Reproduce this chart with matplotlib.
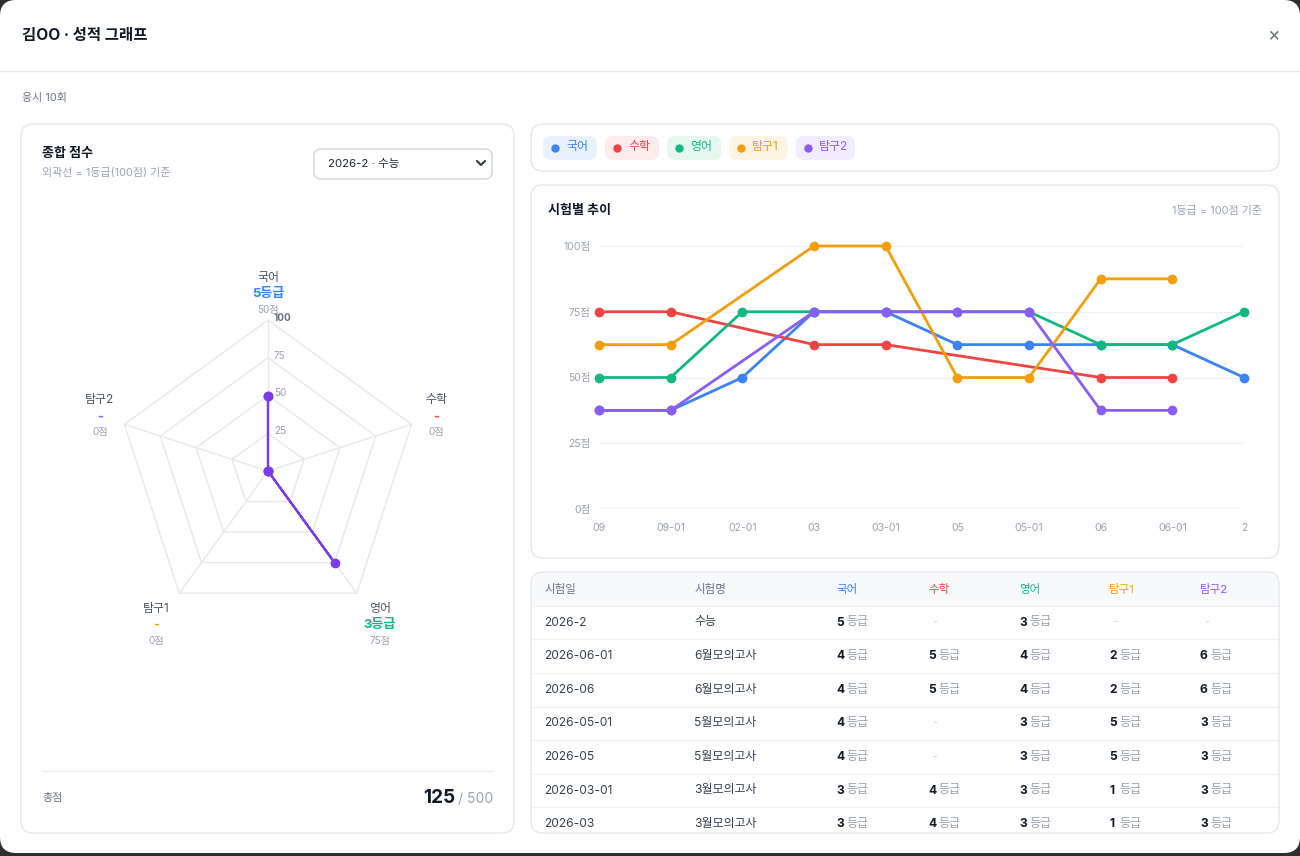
import matplotlib.pyplot as plt
import numpy as np
import pandas as pd
from matplotlib.patches import FancyBboxPatch, Rectangle

plt.rcParams['font.family'] = ['Inter', 'Noto Sans CJK KR', 'DejaVu Sans']

SUBJECTS = ['국어', '수학', '영어', '탐구1', '탐구2']
COLORS = ['#3b82f6', '#ef4444', '#10b981', '#f59e0b', '#8b5cf6']
CHIP_BG = ['#eaf1fe', '#fdecec', '#e6f7f0', '#fef4e4', '#f2edfe']

# exams in chronological order (x axis of the trend chart)
exam_labels = ['09', '09-01', '02-01', '03', '03-01', '05', '05-01', '06', '06-01', '2']
kor_grades = [6, 6, 5, 3, 3, 4, 4, 4, 4, 5]
math_grades = [3, 3, None, 4, 4, None, None, 5, 5, None]
eng_grades = [5, 5, 3, 3, 3, 3, 3, 4, 4, 3]
inq1_grades = [4, 4, None, 1, 1, 5, 5, 2, 2, None]
inq2_grades = [6, 6, None, 3, 3, 3, 3, 6, 6, None]

# table rows, latest first (only the visible part of the list)
table_dates = ['2026-2', '2026-06-01', '2026-06', '2026-05-01', '2026-05', '2026-03-01', '2026-03']
table_names = ['수능', '6월모의고사', '6월모의고사', '5월모의고사', '5월모의고사', '3월모의고사', '3월모의고사']

grades = pd.DataFrame({
    '국어': kor_grades,
    '수학': math_grades,
    '영어': eng_grades,
    '탐구1': inq1_grades,
    '탐구2': inq2_grades,
}, index=exam_labels, dtype=float)
scores = (9 - grades) * 12.5  # 1등급 = 100점

PT = 0.72  # px -> pt at dpi 100
DARK = '#111827'
GRAY = '#6b7280'
LIGHT = '#9ca3af'
BORDER = '#e5e7eb'

fig = plt.figure(figsize=(13, 8.56), dpi=100, facecolor='#2e2e2e')
bg = fig.add_axes([0, 0, 1, 1])
bg.set_xlim(0, 1300)
bg.set_ylim(856, 0)
bg.axis('off')


def txt(x, y, s, size, color=DARK, weight='normal', ha='left', va='center', **kw):
    return bg.text(x, y, s, fontsize=size * PT, color=color, fontweight=weight,
                   ha=ha, va=va, **kw)


def card(x, y, w, h, r=12, fc='white', ec=BORDER, lw=1.0, z=1):
    p = FancyBboxPatch((x, y), w, h, boxstyle=f'round,pad=0,rounding_size={r}',
                       fc=fc, ec=ec, lw=lw, zorder=z)
    bg.add_patch(p)
    return p


# modal
card(0, 0, 1300, 853, r=16, ec='none', z=0)
txt(22, 35, '김OO · 성적 그래프', 15.5, weight='bold')
txt(1273, 36, '×', 19, color=GRAY, ha='center')
bg.plot([0, 1300], [71, 71], color=BORDER, lw=1)
txt(22, 98, '응시 10회', 11, color=GRAY)

# left card: radar
card(21, 124, 493, 709)
txt(42, 154, '종합 점수', 13, weight='bold', zorder=3)
txt(42, 173, '외곽선 = 1등급(100점) 기준', 11, color=LIGHT, zorder=3)
card(314, 149, 178, 30, r=7, ec='#d1d5db', z=2)
txt(328, 164, '2026-2 · 수능', 11.5, color='#1f2937', zorder=3)
bg.plot([477, 481, 485], [161, 165, 161], color='#374151', lw=1.6, zorder=3,
        solid_capstyle='round')
bg.plot([42, 493], [771, 771], color='#f0f0f0', lw=1, zorder=2)
txt(42, 798, '총점', 11, color=GRAY, zorder=3)

sel = scores.iloc[-1]
sel_grade = grades.iloc[-1]
total = sel.fillna(0).sum()
txt(493, 799, '/ 500', 14, color=LIGHT, ha='right', zorder=3)
txt(455, 798, f'{total:.0f}', 19, weight='bold', ha='right', zorder=3)

cx, cy, rad = 268, 471, 151
rax = fig.add_axes([(cx - rad) / 1300, (856 - cy - rad) / 856, 2 * rad / 1300, 2 * rad / 856],
                   projection='polar')
rax.set_theta_offset(np.pi / 2)
rax.set_theta_direction(-1)
rax.set_ylim(0, 100)
rax.set_axis_off()

theta = np.linspace(0, 2 * np.pi, len(SUBJECTS), endpoint=False)
ring_theta = np.append(theta, theta[0])
for r in [25, 50, 75, 100]:
    rax.plot(ring_theta, [r] * len(ring_theta), color='#e8e8e8', lw=1, clip_on=False)
for t in theta:
    rax.plot([t, t], [0, 100], color='#e8e8e8', lw=1, clip_on=False)
for r in [25, 50, 75, 100]:
    rax.annotate(str(r), xy=(0, r), xytext=(6, 2), textcoords='offset pixels',
                 ha='left', va='center', fontsize=10 * PT,
                 color='#6b7280' if r == 100 else LIGHT,
                 fontweight='bold' if r == 100 else 'normal')

radar_vals = sel.fillna(0).values
rax.plot(np.append(theta, theta[0]), np.append(radar_vals, radar_vals[0]),
         color='#7c3aed', lw=1.6, marker='o', markersize=6, clip_on=False, zorder=5)

for i, subj in enumerate(SUBJECTS):
    t = theta[i]
    r_lbl = 117 if np.cos(t) >= 0 else 126
    g = sel_grade[subj]
    gtxt = '-' if pd.isna(g) else f'{g:.0f}등급'
    stxt = f'{sel[subj]:.0f}점' if not pd.isna(sel[subj]) else '0점'
    rax.annotate(subj, xy=(t, r_lbl), xytext=(0, 16), textcoords='offset pixels',
                 ha='center', va='center', fontsize=12 * PT, color='#4b5563',
                 annotation_clip=False)
    rax.annotate(gtxt, xy=(t, r_lbl), xytext=(0, 0), textcoords='offset pixels',
                 ha='center', va='center', fontsize=13 * PT, color=COLORS[i],
                 fontweight='bold', annotation_clip=False)
    rax.annotate(stxt, xy=(t, r_lbl), xytext=(0, -16), textcoords='offset pixels',
                 ha='center', va='center', fontsize=10 * PT, color=LIGHT,
                 annotation_clip=False)

# legend chips
card(531, 124, 748, 47)
x0 = 543
for i, subj in enumerate(SUBJECTS):
    n_h = sum(1 for ch in subj if not ch.isdigit())
    n_d = len(subj) - n_h
    w = 31 + 11.5 * n_h + 5 * n_d
    card(x0, 136, w, 24, r=8, fc=CHIP_BG[i], ec='none', z=2)
    bg.plot(x0 + 12, 148, 'o', color=COLORS[i], markersize=5, zorder=3)
    txt(x0 + 23, 147, subj, 12, color=COLORS[i], zorder=3)
    x0 += w + 8

# trend card
card(531, 185, 748, 373)
txt(548, 211, '시험별 추이', 13, weight='bold', zorder=3)
txt(1262, 211, '1등급 = 100점 기준', 11, color=LIGHT, ha='right', zorder=3)

lax = fig.add_axes([599 / 1300, (856 - 509) / 856, (1244 - 599) / 1300, (509 - 246) / 856])
lax.set_facecolor('none')
xs = np.arange(len(exam_labels))
for i, subj in enumerate(SUBJECTS):
    s = scores[subj]
    ok = s.notna().values
    lax.plot(xs[ok], s.values[ok], color=COLORS[i], lw=2.0, marker='o', markersize=6,
             clip_on=False, zorder=3 + i)
lax.set_xlim(0, len(exam_labels) - 1)
lax.set_ylim(0, 100)
lax.set_yticks([0, 25, 50, 75, 100])
lax.set_yticklabels([f'{v}점' for v in [0, 25, 50, 75, 100]])
lax.set_xticks(xs)
lax.set_xticklabels(exam_labels)
lax.tick_params(axis='y', length=0, pad=6, labelsize=10.5 * PT, labelcolor=LIGHT)
lax.tick_params(axis='x', length=0, pad=10, labelsize=10.5 * PT, labelcolor=LIGHT)
lax.grid(axis='y', color='#f1f1f1', lw=1)
lax.axhline(0, color=BORDER, lw=1, zorder=2)
for sp in lax.spines.values():
    sp.set_visible(False)

# table card
card(531, 572, 748, 261, fc='white', ec='none')
card(531.5, 572.5, 747, 33.5, r=12, fc='#f8f9fb', ec='none', z=1.5)
bg.add_patch(Rectangle((531.5, 590), 747, 16, fc='#f8f9fb', ec='none', zorder=1.6))
card(531, 572, 748, 261, fc='none', ec=BORDER, z=4)

col_x = [544, 694, 836, 928, 1019, 1109, 1200]
txt(col_x[0], 589, '시험일', 11.5, color=GRAY, zorder=3)
txt(col_x[1], 589, '시험명', 11.5, color=GRAY, zorder=3)
for i, subj in enumerate(SUBJECTS):
    txt(col_x[2 + i], 589, subj, 11.5, color=COLORS[i], zorder=3)

recent = grades.iloc[::-1].head(len(table_dates))
row_h = 33.6
for k, (date, name) in enumerate(zip(table_dates, table_names)):
    yc = 622.5 + k * row_h
    top = yc - row_h / 2
    bg.plot([532, 1278], [top, top], color='#f0f0f0', lw=1, zorder=2)
    txt(col_x[0], yc, date, 12, color='#374151', zorder=3)
    txt(col_x[1], yc, name, 12, color='#374151', zorder=3)
    for i, subj in enumerate(SUBJECTS):
        g = recent.iloc[k][subj]
        x = col_x[2 + i]
        if pd.isna(g):
            txt(x + 4, yc, '-', 11, color='#d1d5db', zorder=3)
        else:
            txt(x, yc, f'{g:.0f}', 12, weight='bold', color=DARK, zorder=3)
            txt(x + 10.5, yc, '등급', 12, color=LIGHT, zorder=3)

fig.savefig('out.png', dpi=100, facecolor=fig.get_facecolor())
